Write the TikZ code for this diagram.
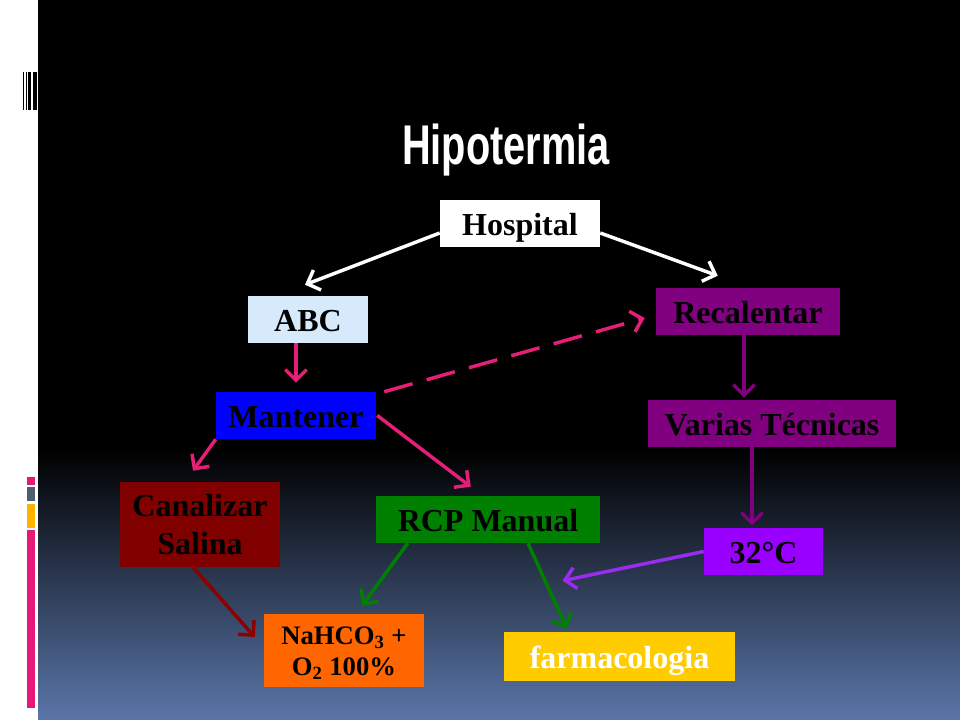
\documentclass[tikz,border=0pt]{standalone}
\usepackage{fontspec}
\setmainfont{Liberation Serif}
\newfontfamily\titlefont{Liberation Sans}
\usetikzlibrary{arrows.meta,calc}
\definecolor{pinkarr}{HTML}{E61E78}
\definecolor{lightblue}{HTML}{D6EAFC}
\definecolor{purplebox}{HTML}{800080}
\definecolor{violetbox}{HTML}{9900FF}
\definecolor{violetarr}{HTML}{9A2BF0}
\definecolor{darkredbox}{HTML}{800000}
\definecolor{darkredarr}{HTML}{8E0000}
\definecolor{greenbox}{HTML}{008000}
\definecolor{orangebox}{HTML}{FF6600}
\definecolor{goldbox}{HTML}{FFCC00}
\definecolor{bottomblue}{HTML}{5A76A8}
\definecolor{barpink}{HTML}{E6197A}
\definecolor{bargray}{HTML}{4F5D70}
\definecolor{baryellow}{HTML}{FFB400}
\begin{document}
\begin{tikzpicture}[x=0.75pt,y=-0.75pt,
  box/.style={rectangle, inner sep=0pt, font=\bfseries\fontsize{24}{28.8}\selectfont, text=black, align=center, minimum height=35.25pt},
  oneline/.style={box, text height=18pt, text depth=0pt},
  arr/.style={line width=2.6pt, -{Straight Barb[length=8pt,width=16pt]}}]
% background
\useasboundingbox (0,0) rectangle (960,720);
\fill[white] (0,0) rectangle (960,720);
\fill[black] (38,0) rectangle (960,450);
\shade[top color=black, bottom color=bottomblue] (38,450) rectangle (960,720);
% left decoration
\fill[black] (23,72) rectangle (24.3,110);
\fill[black] (25.7,72) rectangle (26.7,110);
\fill[black] (28,72) rectangle (31,110);
\fill[black] (32.7,72) rectangle (36.7,110);
\fill[barpink] (27,477) rectangle (34.7,485);
\fill[bargray] (27,487) rectangle (34.7,500.7);
\fill[baryellow] (27,504) rectangle (34.7,528);
\fill[barpink] (27,530) rectangle (34.7,708);
% title
\node[anchor=base, text=white, inner sep=0pt, font=\titlefont\bfseries\fontsize{42}{42}\selectfont] (title) at (506,165) {\scalebox{0.71}[1]{Hipotermia}};
% boxes
\node[oneline, fill=white, minimum width=120pt] (hosp) at (520,223.5) {Hospital};
\node[oneline, fill=lightblue, minimum width=90pt] (abc) at (308,319.5) {ABC};
\node[oneline, fill=blue, minimum width=120pt] (mant) at (296,415.5) {Mantener};
\node[oneline, fill=purplebox, minimum width=138pt] (rec) at (748,311.5) {Recalentar};
\node[oneline, fill=purplebox, minimum width=186pt] (varias) at (772,423.5) {Varias Técnicas};
\node[oneline, fill=violetbox, minimum width=89.25pt] (c32) at (763.5,551.5) {32°C};
\node[box, fill=darkredbox, minimum width=120pt, minimum height=63.75pt] (canal) at (200,524.5) {Canalizar\\Salina};
\node[oneline, fill=greenbox, minimum width=168pt] (rcp) at (488,519.5) {RCP Manual};
\node[box, fill=orangebox, minimum width=120pt, minimum height=54.75pt, font=\bfseries\fontsize{20}{23}\selectfont] (naho) at (344,650.5) {\rule{0pt}{17pt}NaHCO\textsubscript{3} +\\O\textsubscript{2} 100\%};
\node[oneline, fill=goldbox, text=white, minimum width=173.25pt, minimum height=36.75pt] (farm) at (619.5,656.5) {farmacologia};
% connectors
\draw[arr, white] ($(hosp.west)+(0,9.5)$) -- ($(abc.north)+(-3,-11)$);
\draw[arr, white] ($(hosp.east)+(0,9.5)$) -- ($(rec.north west)+(62,-12)$);
\draw[arr, pinkarr] ($(abc.south)+(-12,0)$) -- ($(mant.north)+(0,-9)$);
\draw[arr, pinkarr, dash pattern=on 22pt off 11pt] ($(mant.north east)+(8,0)$) -- ($(rec.west)+(-11,6.5)$);
\draw[arr, pinkarr] (mant.south west) -- ($(canal.north)+(-7,-11)$);
\draw[arr, pinkarr] ($(mant.east)+(1,0)$) -- ($(rcp.north west)+(95,-9)$);
\draw[arr, darkredarr] ($(canal.south)+(-7,0)$) -- ($(naho.west)+(-9,-13.5)$);
\draw[arr, greenbox] ($(rcp.south west)+(32,0)$) -- ($(naho.north)+(18,-8)$);
\draw[arr, greenbox] ($(rcp.south)+(40,0)$) -- ($(farm.north)+(-52.5,-3)$);
\coordinate (c32end) at ($(farm.north)+(-57,-51)$);
\draw[arr, violetarr] (c32.west) -- (c32end);
\draw[arr, purplebox] ($(rec.south)+(-4,0)$) -- ($(varias.north)+(-28,-2)$);
\draw[arr, purplebox] ($(varias.south)+(-20,0)$) -- ($(c32.north)+(-11.5,-2)$);
\end{tikzpicture}
\end{document}
